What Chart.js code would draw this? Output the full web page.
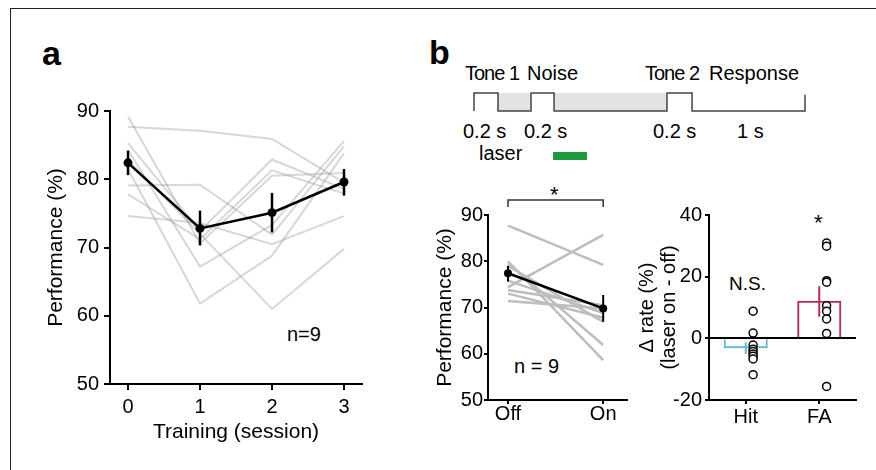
<!DOCTYPE html>
<html>
<head>
<meta charset="utf-8">
<script src="https://cdn.jsdelivr.net/npm/chart.js"></script>
<style>
  body { margin: 0; width: 876px; height: 470px; background: #fff; position: relative; overflow: hidden;
         font-family: "Liberation Sans", Arial, Helvetica, sans-serif; color: #000; }
  .frame { position: absolute; left: 10px; top: 8px; right: -5px; bottom: -5px;
           border-top: 1.5px solid #222; border-left: 1.5px solid #222; }
  canvas { position: absolute; }
  .t { position: absolute; white-space: nowrap; line-height: 1; font-size: 20px; }
  .tight { letter-spacing: -1px; }
  .big { font-size: 34px; font-weight: bold; }
  .star { font-size: 22px; }
</style>
</head>
<body>
<div class="frame"></div>

<!-- panel letters -->
<div class="t big" style="left:42px; top:36px;">a</div>
<div class="t big" style="left:429px; top:35px;">b</div>

<!-- trial structure -->
<div class="t tight" style="left:465px; top:63px;">Tone 1</div>
<div class="t" style="left:527px; top:63px;">Noise</div>
<div class="t tight" style="left:645px; top:63px;">Tone 2</div>
<div class="t" style="left:709px; top:63px;">Response</div>
<div class="t" style="left:463px; top:121px;">0.2 s</div>
<div class="t" style="left:524px; top:121px;">0.2 s</div>
<div class="t" style="left:653px; top:121px;">0.2 s</div>
<div class="t" style="left:737px; top:121px;">1 s</div>
<div class="t" style="left:479px; top:143px;">laser</div>

<!-- annotations -->
<div class="t" style="left:287px; top:324px;">n=9</div>
<div class="t" style="left:514px; top:356px;">n = 9</div>
<div class="t" style="left:729px; top:274px; font-size:19px;">N.S.</div>
<div class="t star" style="left:814px; top:212px;">*</div>
<div class="t star" style="left:550px; top:184px;">*</div>

<canvas id="timeline" width="350" height="90" style="left:464px; top:83px;"></canvas>
<canvas id="chartA" width="360" height="360" style="left:20px; top:90px;"></canvas>
<canvas id="chartB" width="240" height="270" style="left:415px; top:170px;"></canvas>
<canvas id="chartC" width="246" height="270" style="left:630px; top:170px;"></canvas>

<script>
// Panel a: performance per training session
const sessions = [0, 1, 2, 3];
const subjectPerf = [
    [87.7, 87.1, 85.9, 79.5],
    [89.2, 70.6, 80.5, 80.9],
    [85.3, 72.4, 82.9, 78.6],
    [84.3, 67.2, 73.3, 85.6],
    [82.8, 72.0, 61.0, 69.8],
    [81.5, 61.8, 68.8, 83.8],
    [79.1, 79.2, 71.9, 84.8],
    [77.8, 71.2, 81.3, 77.9],
    [74.6, 73.6, 70.5, 74.6],
];
const meanPerf = [82.4, 72.8, 75.1, 79.6];
const meanPerfLow = [80.6, 70.3, 72.2, 77.6];
const meanPerfHigh = [84.2, 75.4, 78.0, 81.5];
const perfTicks = [50, 60, 70, 80, 90];

// Panel b (left): laser off / on
const laserConds = ['Off', 'On'];
const perfOff = [87.7, 80.0, 79.6, 79.0, 75.8, 74.4, 73.8, 73.0, 71.4];
const perfOn = [79.2, 58.6, 61.9, 66.9, 68.8, 85.7, 70.5, 67.8, 69.8];
const laserMean = [77.4, 69.8];
const laserLow = [75.6, 66.9];
const laserHigh = [79.0, 72.7];

// Panel b (right): change in rate
const rateCats = ['Hit', 'FA'];
const rateMean = [-3.2, 12.2];
const rateLow = [-5.1, 7.0];
const rateHigh = [-1.3, 16.9];
const hitDelta = [8.8, 1.7, -2.2, -3.5, -4.3, -5.1, -5.8, -6.7, -11.8];
const faDelta = [30.9, 29.9, 18.7, 18.2, 10.6, 8.8, 6.3, 1.6, -15.6];
const rateTicks = [-20, 0, 20, 40];
const dotShift = 0.1;

// Trial schematic (ms, not to scale)
const waveT = [0, 0, 200, 200, 475, 475, 667, 667, 1608, 1608, 1817, 1817, 2758, 2758];
const waveLevel = [0, 1, 1, 0, 0, 1, 1, 0, 0, 1, 1, 0, 0, 0.9];
const delayWindows = [[200, 475], [667, 1608]];
const laserWindow = [658, 942];
const laserLevel = -2.5;

Chart.defaults.font.family = '"Liberation Sans", Arial, Helvetica, sans-serif';
Chart.defaults.color = '#000';

// error bars from errLow / errHigh on a dataset
const errorBars = {
    id: 'errorBars',
    afterDatasetsDraw(chart) {
        const ctx = chart.ctx;
        const yScale = chart.scales.y;
        chart.data.datasets.forEach((ds, i) => {
            if (!ds.errLow) return;
            const meta = chart.getDatasetMeta(i);
            meta.data.forEach((el, j) => {
                ctx.save();
                ctx.strokeStyle = Array.isArray(ds.borderColor) ? ds.borderColor[j] : ds.borderColor;
                ctx.lineWidth = ds.errWidth || 2;
                ctx.beginPath();
                ctx.moveTo(el.x, yScale.getPixelForValue(ds.errLow[j]));
                ctx.lineTo(el.x, yScale.getPixelForValue(ds.errHigh[j]));
                ctx.stroke();
                ctx.restore();
            });
        });
    }
};

// significance bracket between the two conditions
const bracket = {
    id: 'bracket',
    afterDraw(chart) {
        const ctx = chart.ctx;
        const x0 = chart.scales.x.getPixelForValue(0);
        const x1 = chart.scales.x.getPixelForValue(1);
        const y = chart.chartArea.top - 15;
        ctx.save();
        ctx.strokeStyle = '#333';
        ctx.lineWidth = 1.5;
        ctx.beginPath();
        ctx.moveTo(x0, y + 7);
        ctx.lineTo(x0, y);
        ctx.lineTo(x1, y);
        ctx.lineTo(x1, y + 7);
        ctx.stroke();
        ctx.restore();
    }
};

function axis(o) {
    return {
        type: 'linear',
        offset: false,
        min: o.min,
        max: o.max,
        afterBuildTicks: s => { s.ticks = o.ticks.map(v => ({ value: v })); },
        afterFit: s => { if (o.width) s.width = o.width; if (o.height) s.height = o.height; },
        grid: {
            display: true,
            offset: false,
            drawOnChartArea: !!o.gridColor,
            color: o.gridColor || 'rgba(0,0,0,0)',
            lineWidth: 2,
            drawTicks: true,
            tickLength: o.tickLength,
            tickColor: '#000',
            tickWidth: 2
        },
        border: { display: true, color: '#000', width: 2 },
        ticks: {
            padding: o.pad,
            color: '#000',
            font: { size: 20, lineHeight: 1 },
            callback: o.labels ? (v => o.labels[v]) : (v => v)
        },
        title: {
            display: true,
            text: o.title,
            color: '#000',
            font: { size: o.titleSize || 21, lineHeight: o.titleLH || 1 },
            padding: o.titlePad
        }
    };
}

const noExtras = { legend: { display: false }, tooltip: { enabled: false } };

// Timeline schematic
new Chart(document.getElementById('timeline'), {
    type: 'line',
    data: {
        datasets: [
            {
                data: waveT.map((t, i) => ({ x: t, y: waveLevel[i] })),
                borderColor: '#444', borderWidth: 1.5, pointRadius: 0, fill: false, clip: false
            },
            {
                data: laserWindow.map(t => ({ x: t, y: laserLevel })),
                borderColor: '#1e9a3e', borderWidth: 8, borderCapStyle: 'butt', pointRadius: 0, fill: false, clip: false
            },
            ...delayWindows.map(w => ({
                data: w.map(t => ({ x: t, y: 1 })),
                borderWidth: 0, borderColor: 'rgba(0,0,0,0)', pointRadius: 0,
                fill: { value: 0 }, backgroundColor: '#e3e3e3', clip: false
            }))
        ]
    },
    options: {
        responsive: false, animation: false,
        layout: { padding: { left: 10, top: 10, right: 9, bottom: 8 } },
        plugins: noExtras,
        scales: {
            x: { type: 'linear', display: false, min: 0, max: 2758 },
            y: { display: false, min: -3, max: 1 }
        }
    }
});

// Panel a
new Chart(document.getElementById('chartA'), {
    type: 'line',
    data: {
        datasets: [
            {
                data: sessions.map((s, i) => ({ x: s, y: meanPerf[i] })),
                borderColor: '#000', backgroundColor: '#000', borderWidth: 2.5,
                pointRadius: 4.5, pointBorderWidth: 0,
                errLow: meanPerfLow, errHigh: meanPerfHigh, errWidth: 2.5
            },
            ...subjectPerf.map(row => ({
                data: sessions.map((s, i) => ({ x: s, y: row[i] })),
                borderColor: 'rgba(150,150,150,0.38)', borderWidth: 2, pointRadius: 0
            }))
        ]
    },
    options: {
        responsive: false, animation: false,
        layout: { padding: { left: 0, top: 21, right: 18, bottom: 2 } },
        plugins: noExtras,
        scales: {
            x: axis({ min: -0.25, max: 3.25, ticks: sessions, height: 64, tickLength: 6, pad: 7,
                      title: 'Training (session)', titlePad: { top: 0, bottom: 5.5 } }),
            y: axis({ min: 50, max: 90, ticks: perfTicks, width: 90, tickLength: 6, pad: 5,
                      title: 'Performance (%)', titlePad: { top: 26, bottom: 0 } })
        }
    },
    plugins: [errorBars]
});

// Panel b left
new Chart(document.getElementById('chartB'), {
    type: 'line',
    data: {
        datasets: [
            {
                data: laserMean.map((v, i) => ({ x: i, y: v })),
                borderColor: '#000', backgroundColor: '#000', borderWidth: 2.5,
                pointRadius: 4, pointBorderWidth: 0,
                errLow: laserLow, errHigh: laserHigh, errWidth: 2
            },
            ...perfOff.map((v, i) => ({
                data: [{ x: 0, y: v }, { x: 1, y: perfOn[i] }],
                borderColor: '#bdbdbd', borderWidth: 2.5, pointRadius: 0
            }))
        ]
    },
    options: {
        responsive: false, animation: false,
        layout: { padding: { left: 0, top: 45, right: 28, bottom: 4 } },
        plugins: noExtras,
        scales: {
            x: axis({ min: -0.21, max: 1.25, ticks: [0, 1], labels: laserConds, height: 36, tickLength: 4, pad: 0,
                      title: '', titlePad: 0 }),
            y: axis({ min: 50, max: 90, ticks: perfTicks, width: 73, tickLength: 4, pad: 1,
                      title: 'Performance (%)', titlePad: { top: 19.5, bottom: 0 } })
        }
    },
    plugins: [errorBars, bracket]
});

// Panel b right
new Chart(document.getElementById('chartC'), {
    type: 'bar',
    data: {
        datasets: [
            {
                type: 'scatter',
                data: hitDelta.map(v => ({ x: 0 + dotShift, y: v })),
                pointRadius: 4, pointBorderWidth: 1.5, pointBorderColor: '#000', pointBackgroundColor: '#fff'
            },
            {
                type: 'scatter',
                data: faDelta.map(v => ({ x: 1 + dotShift, y: v })),
                pointRadius: 4, pointBorderWidth: 1.5, pointBorderColor: '#000', pointBackgroundColor: '#fff'
            },
            {
                type: 'bar',
                data: rateMean.map((v, i) => ({ x: i, y: v })),
                backgroundColor: 'rgba(0,0,0,0)',
                borderColor: ['#5cb8d6', '#b92a50'],
                borderWidth: 2,
                categoryPercentage: 1, barPercentage: 0.6,
                errLow: rateLow, errHigh: rateHigh, errWidth: 2
            }
        ]
    },
    options: {
        responsive: false, animation: false,
        layout: { padding: { left: 0, top: 45, right: 20, bottom: 4 } },
        plugins: noExtras,
        scales: {
            x: axis({ min: -0.5, max: 1.5, ticks: [0, 1], labels: rateCats, height: 36, tickLength: 4, pad: 3,
                      title: '', titlePad: 0 }),
            y: axis({ min: -20, max: 40, ticks: rateTicks, width: 79, tickLength: 4, pad: 3,
                      title: ['Δ rate (%)', '(laser on - off)'], titleSize: 20, titleLH: 1.1,
                      titlePad: { top: 6, bottom: 0 },
                      gridColor: c => (c.tick && c.tick.value === 0 ? '#000' : 'rgba(0,0,0,0)') })
        }
    },
    plugins: [errorBars]
});
</script>
</body>
</html>
